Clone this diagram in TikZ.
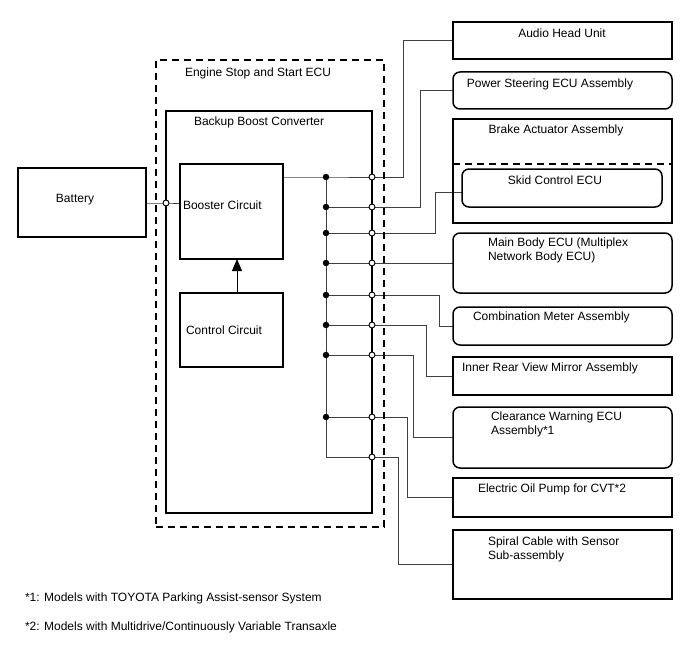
\documentclass[tikz,border=0pt]{standalone}
\usepackage{fontspec}
\setmainfont{Liberation Sans}
\usetikzlibrary{arrows.meta,backgrounds,calc}
\begin{document}
\begin{tikzpicture}[x=1pt,y=-1pt,
  every node/.style={font=\fontsize{12}{14}\selectfont, inner sep=0pt, outer sep=0pt},
  box/.style={draw, line width=1.5pt, anchor=north west, inner sep=0pt},
  rbox/.style={box, rounded corners=7pt},
  wire/.style={line width=0.9pt, draw=black!75},
  fdot/.style={circle, fill=black, minimum size=6.5pt},
  odot/.style={circle, draw=black, line width=0.9pt, fill=white, minimum size=6pt},
  lbl/.style={anchor=west, align=left},
  dashline/.style={line width=1.6pt, dash pattern=on 7pt off 5pt}]
\useasboundingbox (0,0) rectangle (688,658);

% left side
\node[box, dashline, minimum width=228pt, minimum height=467pt] (ecu) at (156,60) {};
\node[lbl] (ecut) at (185,73) {Engine Stop and Start ECU};
\node[box, minimum width=206pt, minimum height=402pt] (conv) at (166,111) {};
\node[lbl] (convt) at (194,122) {Backup Boost Converter};
\node[box, minimum width=103pt, minimum height=95pt] (booster) at (180,164) {};
\node[lbl] (boostert) at (183,205) {Booster Circuit};
\node[box, minimum width=103pt, minimum height=74pt] (control) at (180,293) {};
\node[lbl] (controlt) at (186,330) {Control Circuit};
\node[box, minimum width=128pt, minimum height=69pt] (battery) at (18,168) {};
\node (batteryt) at (75,200) {Battery};

% right side
\node[box, minimum width=219pt, minimum height=37pt] (audio) at (453,22) {};
\node (audiot) at (562,33) {Audio Head Unit};
\node[rbox, minimum width=219pt, minimum height=37pt] (ps) at (453,72) {};
\node (pst) at (550,84) {Power Steering ECU Assembly};
\node[box, minimum width=219pt, minimum height=104pt] (brake) at (453,119) {};
\node (braket) at (556,130) {Brake Actuator Assembly};
\draw[dashline, line width=1.5pt] (brake.west |- 0,164) -- (brake.east |- 0,164);
\node[rbox, minimum width=200pt, minimum height=38pt] (skid) at (462,169) {};
\node (skidt) at (555,180) {Skid Control ECU};
\node[rbox, minimum width=219pt, minimum height=60pt] (mainbody) at (453,233) {};
\node[lbl] (mainbodyt) at (488,250.5) {Main Body ECU (Multiplex\\Network Body ECU)};
\node[rbox, minimum width=219pt, minimum height=38pt] (combo) at (453,307) {};
\node[lbl] (combot) at (473,317) {Combination Meter Assembly};
\node[box, minimum width=219pt, minimum height=38pt] (mirror) at (453,357) {};
\node[lbl] (mirrort) at (462,368) {Inner Rear View Mirror Assembly};
\node[rbox, minimum width=219pt, minimum height=61pt] (clear) at (453,407) {};
\node[lbl] (cleart) at (491,424.5) {Clearance Warning ECU\\Assembly*1};
\node[box, minimum width=219pt, minimum height=39pt] (pump) at (453,478) {};
\node[lbl] (pumpt) at (478,489) {Electric Oil Pump for CVT*2};
\node[box, minimum width=219pt, minimum height=69pt] (spiral) at (453,530) {};
\node[lbl] (spiralt) at (488,549) {Spiral Cable with Sensor\\Sub-assembly};

% footnotes
\node[lbl] (fn1) at (25,598) {*1: Models with TOYOTA Parking Assist-sensor System};
\node[lbl] (fn2) at (25,627) {*2: Models with Multidrive/Continuously Variable Transaxle};

% bus dots
\foreach \i/\yy in {1/177,2/207,3/233,4/263,5/295,6/325,7/355,8/417}{
  \node[fdot] (f\i) at (326,\yy) {};
}
\coordinate (c9) at (326,457);
\foreach \i/\yy in {1/177,2/207,3/233,4/263,5/295,6/325,7/355,8/417,9/457}{
  \node[odot] (o\i) at (372,\yy) {};
}
\node[odot] (ob) at (166,203) {};

% elbow columns
\coordinate (e1) at (403,0);
\coordinate (e2) at (420,0);
\coordinate (e3) at (435,0);
\coordinate (e5) at (439,0);
\coordinate (e6) at (426,0);
\coordinate (e7) at (413,0);
\coordinate (e8) at (407,0);
\coordinate (e9) at (398,0);
\coordinate (skidin) at ([yshift=-4pt]skid.west);

% arrow control -> booster
\draw[line width=1pt, -{Triangle[width=10pt,length=12pt]}] ([xshift=5.5pt]control.north) -- ([xshift=5.5pt]booster.south);

\begin{scope}[on background layer]
  \draw[wire] (battery.east |- ob) -- (ob.center) -- (booster.west |- ob);
  \draw[wire] (booster.east |- f1) -- (f1.center) -- (o1.center);
  \draw[wire] (f1.center) -- (c9) -- (o9.center);
  \foreach \i in {2,...,8}{ \draw[wire] (f\i.center) -- (o\i.center); }
  \draw[wire] (o1.center) -| (e1 |- audio.west) -- (audio.west);
  \draw[wire] (o2.center) -| (e2 |- ps.west) -- (ps.west);
  \draw[wire] (o3.center) -| (e3 |- skidin) -- (skidin);
  \draw[wire] (o4.center) -- (mainbody.west |- o4);
  \draw[wire] (o5.center) -| (e5 |- combo.west) -- (combo.west);
  \draw[wire] (o6.center) -| (e6 |- mirror.west) -- (mirror.west);
  \draw[wire] (o7.center) -| (e7 |- clear.west) -- (clear.west);
  \draw[wire] (o8.center) -| (e8 |- pump.west) -- (pump.west);
  \draw[wire] (o9.center) -| (e9 |- spiral.west) -- (spiral.west);
\end{scope}
\end{tikzpicture}
\end{document}
